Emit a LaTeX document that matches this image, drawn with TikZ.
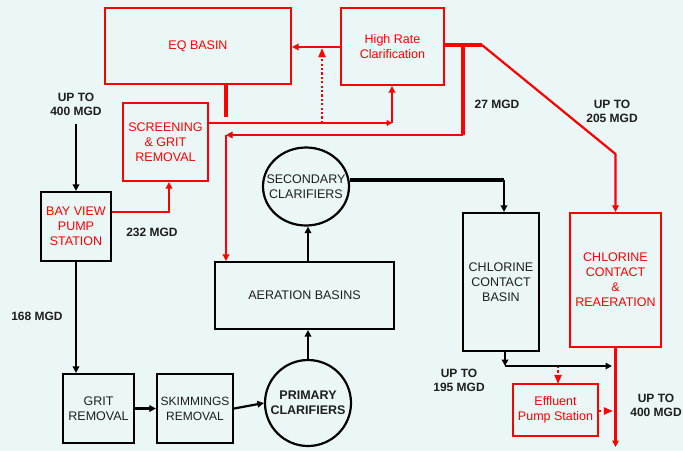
\documentclass[tikz,border=0pt]{standalone}
\usepackage{fontspec}
\setmainfont{Liberation Sans}
\usetikzlibrary{arrows.meta,shapes.geometric}
\definecolor{bg}{RGB}{235,246,246}
\definecolor{rd}{RGB}{255,0,0}
\definecolor{txt}{RGB}{30,30,30}
\tikzset{
  rbox/.style={draw=rd,line width=2.2pt,text=rd,align=center,font=\fontsize{12.5}{15}\selectfont,inner sep=1pt},
  bbox/.style={draw=black,line width=2.2pt,text=txt,align=center,font=\fontsize{12.5}{15}\selectfont,inner sep=1pt},
  ctext/.style={text=txt,align=center,font=\fontsize{12.5}{15}\selectfont,inner sep=0pt},
  lbl/.style={text=txt,align=center,font=\bfseries\fontsize{12}{14}\selectfont,inner sep=0pt},
  rl/.style={draw=rd,line width=2.2pt},
  bl/.style={draw=black,line width=2.2pt},
  thk/.style={line width=4.5pt},
  arr/.style={-{Triangle[length=6.5pt,width=6.5pt]}},
  sarr/.style={-{Triangle[length=5.5pt,width=6pt]}},
  dot/.style={line width=2.2pt,line cap=butt,dash pattern=on 2.2pt off 2.2pt}
}
\begin{document}
\begin{tikzpicture}[x=1pt,y=-1pt]
\fill[bg] (0,0) rectangle (683,451);
\useasboundingbox (0,0) rectangle (683,451);
% boxes
\node[rbox,minimum width=186pt,minimum height=76pt] (eq) at (198,46) {EQ BASIN};
\node[rbox,minimum width=103pt,minimum height=77pt] (hr) at (392.5,46.5) {High Rate\\Clarification};
\node[rbox,minimum width=85pt,minimum height=78pt] (scr) at (165.5,142) {SCREENING\\\& GRIT\\REMOVAL};
\node[bbox,text=rd,minimum width=70pt,minimum height=69pt] (bay) at (76,226.5) {BAY VIEW\\PUMP\\STATION};
\node[bbox,minimum width=71pt,minimum height=69pt] (grit) at (98.5,408.5) {GRIT\\REMOVAL};
\node[bbox,minimum width=76pt,minimum height=69pt,font=\fontsize{12}{15}\selectfont] (skim) at (195,408.5) {SKIMMINGS\\REMOVAL};
\node[draw=black,line width=2.2pt,circle,minimum size=86pt,inner sep=0pt] (prim) at (308,403) {};
\node[ctext,font=\bfseries\fontsize{12.5}{15}\selectfont] (primt) at (prim) {PRIMARY\\CLARIFIERS};
\node[bbox,minimum width=179pt,minimum height=67pt] (aer) at (304.5,295.5) {AERATION BASINS};
\node[draw=black,line width=2.2pt,ellipse,minimum width=86pt,minimum height=78pt,inner sep=0pt] (sec) at (306,186.5) {};
\node[ctext] (sect) at (sec) {SECONDARY\\CLARIFIERS};
\node[bbox,minimum width=76pt,minimum height=138pt] (ccb) at (501,282) {CHLORINE\\CONTACT\\BASIN};
\node[rbox,minimum width=91pt,minimum height=134pt] (ccr) at (615.5,280) {CHLORINE\\CONTACT\\\&\\REAERATION};
\node[rbox,minimum width=85pt,minimum height=52pt] (eff) at (555.5,410) {Effluent\\Pump Station};
% labels
\node[lbl] (l400) at (76,104) {UP TO\\400 MGD};
\node[lbl] (l232) at (152,232) {232 MGD};
\node[lbl] (l168) at (37,316) {168 MGD};
\node[lbl] (l27) at (497,104) {27 MGD};
\node[lbl] (l205) at (612,111) {UP TO\\205 MGD};
\node[lbl] (l195) at (459,380) {UP TO\\195 MGD};
\node[lbl] (l400b) at (656,405) {UP TO\\400 MGD};
% coordinates
\coordinate (dS) at (322,123);
\coordinate (stub) at (226,117);
\coordinate (j1) at (392,123);
\coordinate (t1) at (463,45);
\coordinate (t2) at (482,45);
\coordinate (t3) at (615.5,154);
\coordinate (t4) at (463,135);
\coordinate (t5) at (226,135);
\coordinate (c2) at (504,180);
\coordinate (b1) at (169,212);
\coordinate (a0) at (76,124);
\coordinate (e1) at (505,366);
\coordinate (e2) at (612,366);
\coordinate (e3) at (558,366);
\coordinate (e4) at (612,411);
\coordinate (out) at (615.5,447);
% red connectors
\draw[rl,arr] (hr.west |- 0,47) -- (eq.east |- 0,47);
\draw[rl,dot] (dS) -- (322,58);
\draw[rd,fill=rd] (322,49) -- (318.5,57) -- (325.5,57) -- cycle;
\draw[rl,thk] (eq.south -| stub) -- (stub);
\draw[rl,sarr] (j1 -| scr.east) -- (j1);
\draw[rl,arr] (j1) -- (hr.south -| j1);
\draw[rl,thk] (hr.east |- t1) -- (t2);
\draw[rl,thk] (t1) -- (t4);
\draw[rl,arr,line join=round] (t2) -- (t3) -- (ccr.north);
\draw[rl,arr] (t4) -- (t5);
\draw[rl,arr] (t5) -- (aer.north -| t5);
\draw[rl,arr] (bay.east |- b1) -- (b1) -- (scr.south -| b1);
\draw[rl,line width=2.6pt,arr] (ccr.south) -- (out);
\draw[rl,dot] (e3) -- (558,377);
\draw[rd,fill=rd] (558,383) -- (554.5,375) -- (561.5,375) -- cycle;
\draw[rl,dot] (eff.east |- e4) -- (605,411);
\draw[rd,fill=rd] (e4) -- (604,407.5) -- (604,414.5) -- cycle;
% black connectors
\draw[bl,thk] (c2 -| sec.east) -- (c2);
\draw[bl,arr] (c2) -- (c2 |- ccb.north);
\draw[bl,arr] (aer.north -| prim.north) -- (sec.south -| prim.north);
\draw[bl,arr] (prim.north) -- (prim.north |- aer.south);
\draw[bl,arr] (grit.east) -- (skim.west);
\draw[bl,arr] (skim.east) -- (prim.west);
\draw[bl,arr] (bay.south) -- (bay.south |- grit.north);
\draw[bl,arr] (a0) -- (bay.north);
\draw[bl,arr] (ccb.south -| e1) -- (e1);
\draw[bl,arr] (e1) -- (e2);
\end{tikzpicture}
\end{document}
